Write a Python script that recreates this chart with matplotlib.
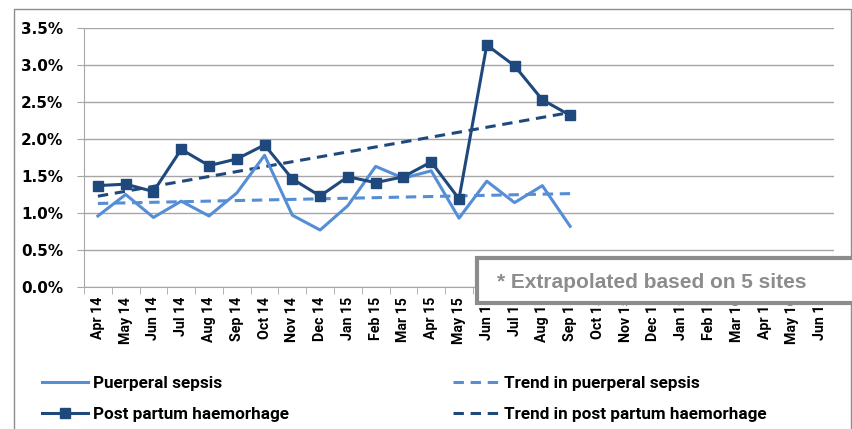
import matplotlib
matplotlib.use("Agg")
import matplotlib.pyplot as plt
from matplotlib.patches import Rectangle
from matplotlib.ticker import FuncFormatter, MultipleLocator
import numpy as np

# months on the category axis (Apr 14 .. Jun 16)
months = ["Apr 14", "May 14", "Jun 14", "Jul 14", "Aug 14", "Sep 14", "Oct 14",
          "Nov 14", "Dec 14", "Jan 15", "Feb 15", "Mar 15", "Apr 15", "May 15",
          "Jun 15", "Jul 15", "Aug 15", "Sep 15", "Oct 15", "Nov 15", "Dec 15",
          "Jan 16", "Feb 16", "Mar 16", "Apr 16", "May 16", "Jun 16"]

# rates in percent, only reported up to Sep 15
sepsis = [0.96, 1.25, 0.94, 1.16, 0.96, 1.27, 1.78, 0.97, 0.77, 1.10, 1.63, 1.47,
          1.57, 0.93, 1.43, 1.14, 1.37, 0.82]
pph = [1.37, 1.39, 1.29, 1.86, 1.64, 1.73, 1.92, 1.46, 1.23, 1.49, 1.41, 1.49,
       1.69, 1.19, 3.27, 2.99, 2.53, 2.32]

light = "#558ed5"
dark = "#1f497d"
grid_c = "#a6a6a6"

fig = plt.figure(figsize=(8.53, 4.29), dpi=100)
ax = fig.add_axes([84/853, 1-287/429, 750/853, 259/429])

x = np.arange(len(sepsis))
ax.plot(x, sepsis, color=light, lw=2.2, label="Puerperal sepsis", zorder=3)
ax.plot(x, pph, color=dark, lw=2.2, marker="s", ms=6.5,
        label="Post partum haemorhage", zorder=4)

# linear trend lines, as in the spreadsheet
for y, c, lab in [(sepsis, light, "Trend in puerperal sepsis"),
                  (pph, dark, "Trend in post partum haemorhage")]:
    k, b = np.polyfit(x, y, 1)
    ax.plot(x, k*x + b, color=c, lw=2.2, ls=(0, (3.4, 2.2)), label=lab, zorder=2)

ax.set_xlim(-0.5, len(months) - 0.5)
ax.set_ylim(0, 3.5)
ax.yaxis.set_major_locator(MultipleLocator(0.5))
ax.yaxis.set_major_formatter(FuncFormatter(lambda v, p: f"{v:.1f}%"))
ax.grid(axis="y", color=grid_c, lw=1)
ax.set_axisbelow(True)

ax.set_xticks(range(len(months)))
ax.set_xticklabels(months, rotation=90, fontsize=10.2, fontweight="bold",
                   family=["Roboto", "Liberation Sans"])
ax.set_xticks(np.arange(-0.5, len(months)), minor=True)
ax.tick_params(axis="x", which="major", length=0, pad=7)
ax.tick_params(axis="x", which="minor", length=5, color=grid_c)
ax.tick_params(axis="y", length=5, color=grid_c, pad=10)
for t in ax.get_yticklabels():
    t.set_fontweight("bold")
    t.set_fontsize(11)
    t.set_family("DejaVu Sans")

for s in ["top", "right"]:
    ax.spines[s].set_visible(False)
ax.spines["left"].set_color(grid_c)
ax.spines["bottom"].set_color(grid_c)

# outer chart frame
fig.patches.append(Rectangle((14/853, -0.05), 837/853, 1.05 - 9/429,
                             transform=fig.transFigure, fill=False,
                             ec="#8c8c8c", lw=1))

# note box over the right-hand labels
fig.patches.append(Rectangle((477/853, 1-303/429), 0.5, 45/429,
                             transform=fig.transFigure, fc="white",
                             ec="#8c8c8c", lw=3, zorder=10))
fig.text(497/853, 1-282/429, "* Extrapolated based on 5 sites", color="#8c8c8c",
         fontsize=15, fontweight="bold", family="Liberation Sans",
         va="center", ha="left", zorder=11)

h, l = ax.get_legend_handles_labels()
fig.legend(h, l, ncol=2, loc="upper left", bbox_to_anchor=(42/853, 1-376/429),
           frameon=False, borderpad=0, borderaxespad=0,
           prop={"family": ["Roboto", "Liberation Sans"], "weight": "bold", "size": 12.3},
           handlelength=2.7, handletextpad=0.3, columnspacing=9.6,
           labelspacing=0.95)

fig.savefig("out.png", dpi=100)
